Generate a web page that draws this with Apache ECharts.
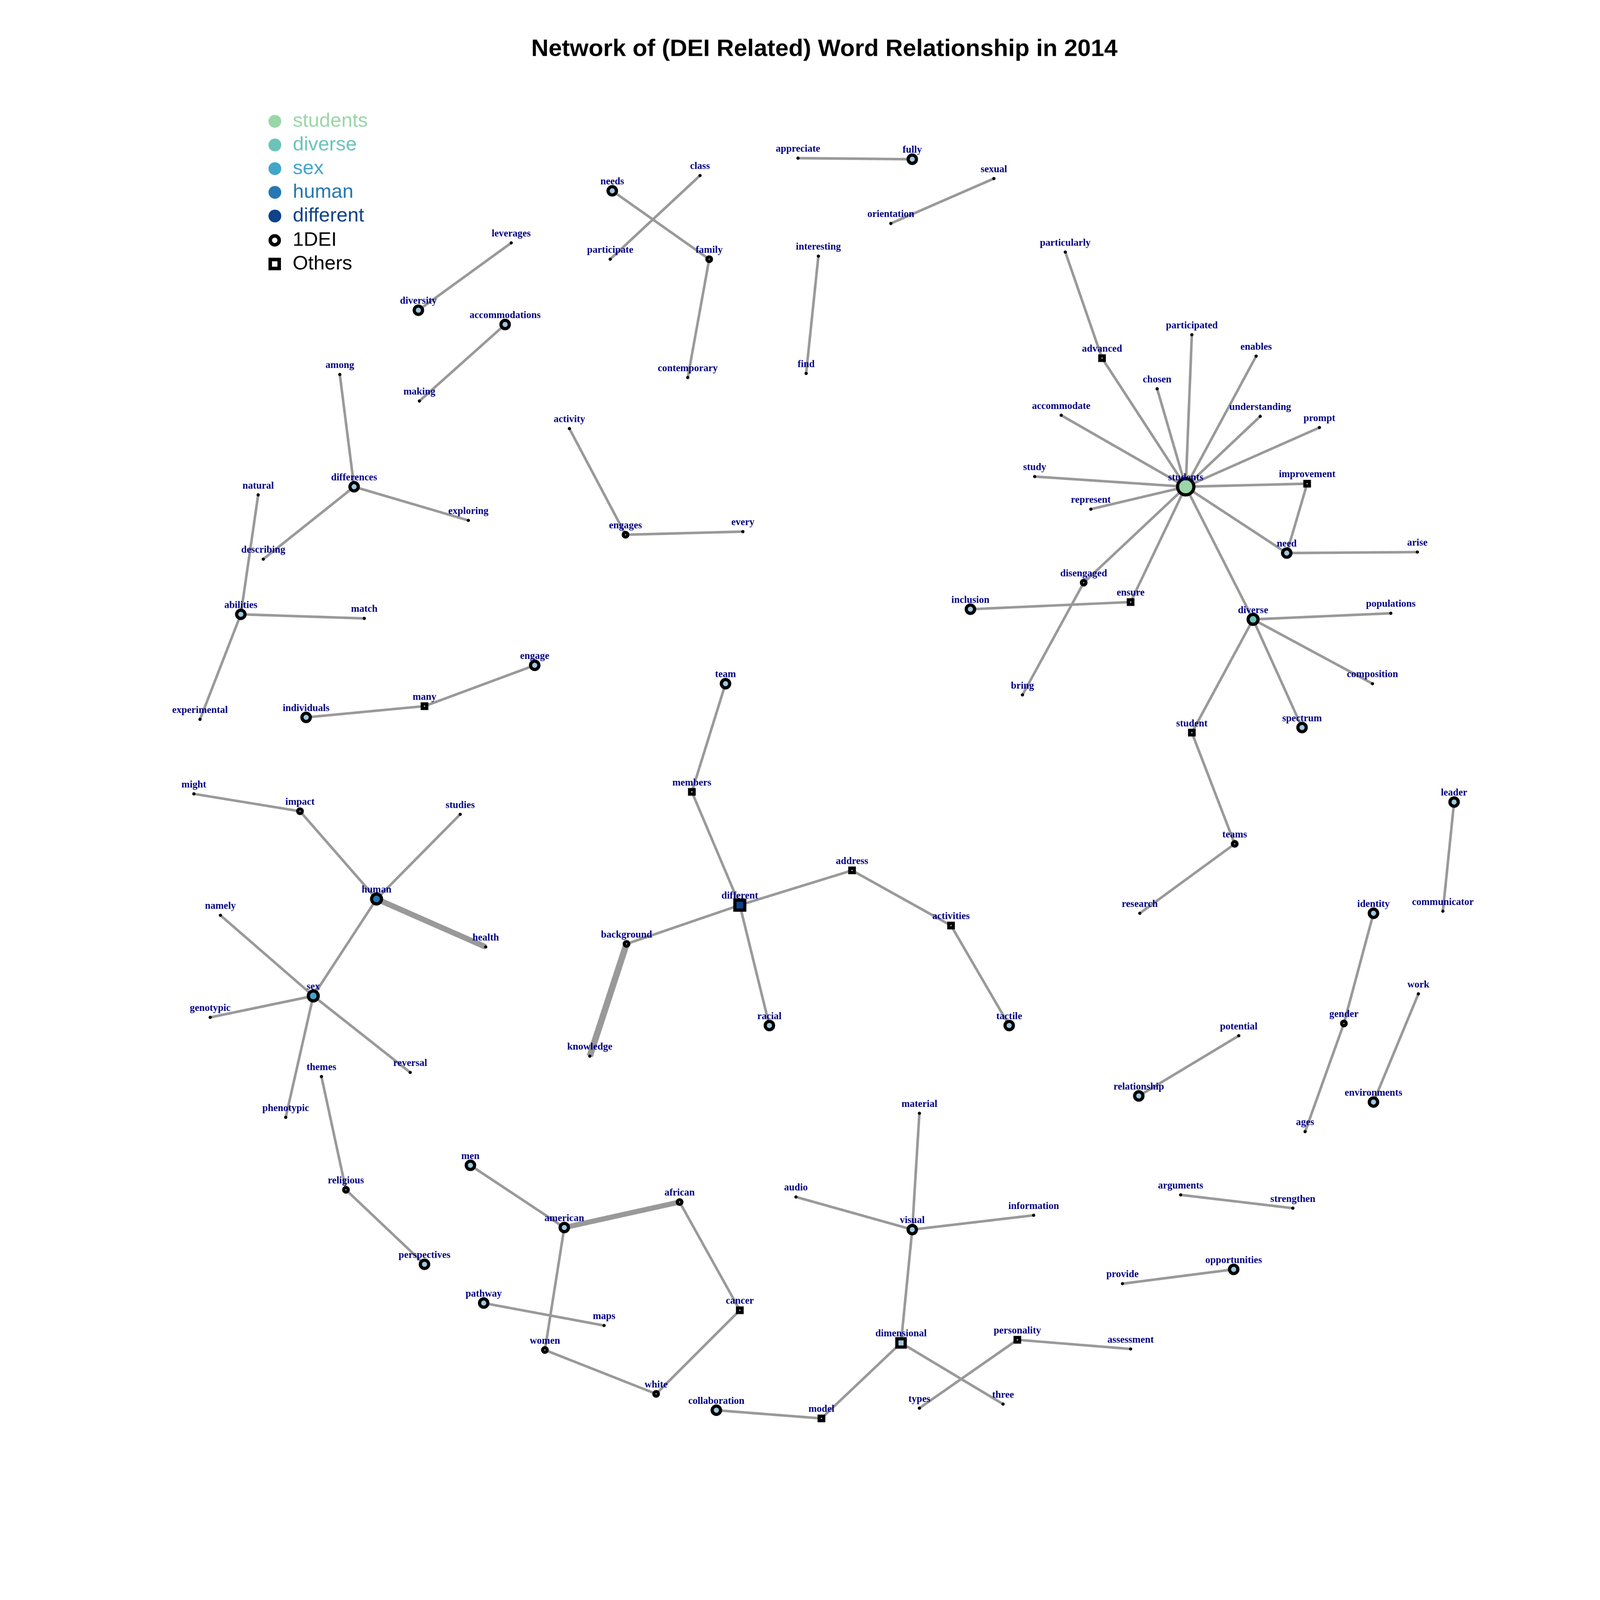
<!DOCTYPE html>
<html>
<head>
    <title>DEI word network 2014</title>
    <meta http-equiv="content-type" content="text/html; charset=utf-8">
    <script src="https://cdn.jsdelivr.net/npm/echarts@6.0.0/dist/echarts.min.js"></script>
    <style type="text/css">
    html, body {
        margin: 0;
        padding: 0;
        background: #fff;
        overflow: hidden;
    }
    #main {
        width: 5000px;
        height: 5000px;
        transform-origin: 0 0;
    }
    </style>
</head>

<body>
    <div id="main"></div>
    <script type="text/javascript">
    // legend groups: five hub words, then the two shape groups
    var groups = ['students', 'diverse', 'sex', 'human', 'different', '1DEI', 'Others'];
    var groupColors = ['#9ad6a8', '#6cc3b9', '#42a5ca', '#2678b2', '#0e428a', '#000000', '#000000'];

    // words and their layout position (layout units)
    var words = [
        'appreciate', 'fully', 'sexual', 'orientation', 'class', 'needs', 'participate', 'family',
        'contemporary', 'interesting', 'find', 'leverages', 'diversity', 'accommodations', 'making',
        'among', 'differences', 'natural', 'exploring', 'describing', 'abilities', 'match',
        'experimental', 'individuals', 'many', 'engage', 'activity', 'engages', 'every',
        'students', 'particularly', 'advanced', 'participated', 'enables', 'chosen', 'accommodate',
        'understanding', 'prompt', 'study', 'represent', 'improvement', 'need', 'arise', 'disengaged',
        'ensure', 'inclusion', 'bring', 'diverse', 'populations', 'composition', 'spectrum', 'student',
        'teams', 'research', 'team', 'members', 'different', 'address', 'activities', 'tactile',
        'racial', 'background', 'knowledge', 'might', 'impact', 'studies', 'human', 'health', 'namely',
        'sex', 'genotypic', 'reversal', 'phenotypic', 'themes', 'religious', 'perspectives', 'leader',
        'communicator', 'identity', 'work', 'gender', 'environments', 'ages', 'potential',
        'relationship', 'arguments', 'strengthen', 'provide', 'opportunities', 'men', 'american',
        'african', 'cancer', 'women', 'white', 'pathway', 'maps', 'audio', 'material', 'visual',
        'information', 'dimensional', 'personality', 'assessment', 'types', 'three', 'collaboration',
        'model'
    ];
    var wordX = [
        782, 894, 974, 873, 686, 600, 598, 695,
        674, 802, 790, 501, 410, 495, 411,
        333, 347, 253, 459, 258, 236, 357,
        196, 300, 416, 524, 558, 613, 728,
        1162, 1044, 1080, 1168, 1231, 1134, 1040,
        1235, 1293, 1014, 1069, 1281, 1261, 1389, 1062,
        1108, 951, 1002, 1228, 1363, 1345, 1276, 1168,
        1210, 1117, 711, 678, 725, 835, 932, 989,
        754, 614, 578, 190, 294, 451, 369, 476, 216,
        307, 206, 402, 280, 315, 339, 416, 1425,
        1414, 1346, 1390, 1317, 1346, 1279, 1214,
        1116, 1157, 1267, 1100, 1209, 461, 553,
        666, 725, 534, 643, 474, 592, 780, 901, 894,
        1013, 883, 997, 1108, 901, 983, 702,
        805
    ];
    var wordY = [
        155, 156, 175, 219, 172, 187, 254, 254,
        370, 251, 366, 238, 304, 318, 393,
        367, 477, 485, 510, 548, 602, 606,
        705, 703, 692, 652, 420, 524, 521,
        477, 247, 351, 328, 349, 381, 407,
        408, 419, 467, 499, 474, 542, 541, 571,
        590, 597, 681, 607, 601, 670, 713, 718,
        827, 895, 670, 776, 887, 853, 907, 1005,
        1005, 925, 1035, 778, 795, 798, 881, 928, 897,
        976, 997, 1051, 1095, 1055, 1166, 1239, 786,
        893, 895, 974, 1003, 1080, 1109, 1015,
        1074, 1171, 1184, 1258, 1244, 1142, 1203,
        1178, 1284, 1323, 1366, 1277, 1299, 1173, 1091, 1205,
        1191, 1316, 1313, 1322, 1380, 1376, 1382,
        1390
    ];
    // group of each word
    var wordGroup = [
        '1DEI', '1DEI', '1DEI', '1DEI', '1DEI', '1DEI', '1DEI', '1DEI',
        '1DEI', '1DEI', '1DEI', '1DEI', '1DEI', '1DEI', '1DEI',
        '1DEI', '1DEI', '1DEI', '1DEI', '1DEI', '1DEI', '1DEI',
        '1DEI', '1DEI', 'Others', '1DEI', '1DEI', '1DEI', '1DEI',
        'students', '1DEI', 'Others', '1DEI', '1DEI', '1DEI', '1DEI',
        '1DEI', '1DEI', '1DEI', '1DEI', 'Others', '1DEI', '1DEI', '1DEI',
        'Others', '1DEI', '1DEI', 'diverse', '1DEI', '1DEI', '1DEI', 'Others',
        '1DEI', '1DEI', '1DEI', 'Others', 'different', 'Others', 'Others', '1DEI',
        '1DEI', '1DEI', '1DEI', '1DEI', '1DEI', '1DEI', 'human', '1DEI', '1DEI',
        'sex', '1DEI', '1DEI', '1DEI', '1DEI', '1DEI', '1DEI', '1DEI',
        '1DEI', '1DEI', '1DEI', '1DEI', '1DEI', '1DEI', '1DEI',
        '1DEI', '1DEI', '1DEI', '1DEI', '1DEI', '1DEI', '1DEI',
        '1DEI', 'Others', '1DEI', '1DEI', '1DEI', '1DEI', '1DEI', '1DEI', '1DEI',
        '1DEI', 'Others', 'Others', '1DEI', '1DEI', '1DEI', '1DEI',
        'Others'
    ];
    // importance of each word: 0 leaf, 1 minor, 2 DEI word, 3 hub, 4 main hub
    var wordLevel = [
        0, 2, 0, 0, 0, 2, 0, 1,
        0, 0, 0, 0, 2, 2, 0,
        0, 2, 0, 0, 0, 2, 0,
        0, 2, 1, 2, 0, 1, 0,
        4, 0, 1, 0, 0, 0, 0,
        0, 0, 0, 0, 1, 2, 0, 1,
        1, 2, 0, 3, 0, 0, 2, 1,
        1, 0, 2, 1, 3, 1, 1, 2,
        2, 1, 0, 0, 1, 0, 3, 0, 0,
        3, 0, 0, 0, 0, 1, 2, 2,
        0, 2, 0, 1, 2, 0, 0,
        2, 0, 0, 0, 2, 2, 2,
        1, 1, 1, 1, 2, 0, 0, 0, 2,
        0, 2, 1, 0, 0, 0, 2,
        1
    ];

    // word pairs
    var edgeFrom = [
        'appreciate', 'sexual', 'class', 'needs', 'family', 'interesting', 'leverages', 'accommodations',
        'among', 'differences', 'differences', 'natural', 'abilities', 'abilities', 'individuals', 'many',
        'activity', 'engages',
        'particularly', 'advanced', 'participated', 'enables', 'chosen', 'accommodate', 'understanding',
        'prompt', 'study', 'represent', 'improvement', 'students', 'improvement', 'need', 'students',
        'disengaged', 'students', 'ensure', 'students', 'diverse', 'diverse', 'diverse', 'diverse',
        'student', 'teams',
        'team', 'members', 'different', 'address', 'activities', 'different', 'different', 'background',
        'might', 'impact', 'human', 'human', 'human', 'namely', 'sex', 'sex', 'sex', 'themes', 'religious',
        'leader', 'identity', 'gender', 'work', 'potential', 'arguments', 'provide',
        'men', 'american', 'african', 'cancer', 'american', 'women', 'pathway', 'audio', 'material',
        'visual', 'visual', 'dimensional', 'model', 'dimensional', 'personality', 'personality'
    ];
    var edgeTo = [
        'fully', 'orientation', 'participate', 'family', 'contemporary', 'find', 'diversity', 'making',
        'differences', 'describing', 'exploring', 'abilities', 'match', 'experimental', 'many', 'engage',
        'engages', 'every',
        'advanced', 'students', 'students', 'students', 'students', 'students', 'students',
        'students', 'students', 'students', 'students', 'need', 'need', 'arise', 'disengaged',
        'bring', 'ensure', 'inclusion', 'diverse', 'populations', 'composition', 'spectrum', 'student',
        'teams', 'research',
        'members', 'different', 'address', 'activities', 'tactile', 'racial', 'background', 'knowledge',
        'impact', 'human', 'studies', 'health', 'sex', 'sex', 'genotypic', 'reversal', 'phenotypic', 'religious', 'perspectives',
        'communicator', 'gender', 'ages', 'environments', 'relationship', 'strengthen', 'opportunities',
        'american', 'african', 'cancer', 'white', 'women', 'white', 'maps', 'visual', 'visual',
        'information', 'dimensional', 'model', 'collaboration', 'three', 'types', 'assessment'
    ];
    var edgeWeight = [
        1, 1, 1, 1, 1, 1, 1, 1,
        1, 1, 1, 1, 1, 1, 1, 1,
        1, 1,
        1, 1, 1, 1, 1, 1, 1,
        1, 1, 1, 1, 1, 1, 1, 1,
        1, 1, 1, 1, 1, 1, 1, 1,
        1, 1,
        1, 1, 1, 1, 1, 1, 1, 2.5,
        1, 1, 1, 2.2, 1, 1, 1, 1, 1, 1, 1,
        1, 1, 1, 1, 1, 1, 1,
        1, 2, 1, 1, 1, 1, 1, 1, 1,
        1, 1, 1, 1, 1, 1, 1
    ];

    // drawing styles by level
    var levelSize = [10, 14, 26, 31, 51];
    var levelBorder = [0, 10, 10, 10, 10];
    var deiFill = '#9ecae1';
    var edgeUnit = 8;

    // the page is drawn at 5000px; fit it to the window whatever the pixel ratio
    var box = document.getElementById('main');
    var fit = Math.min(window.innerWidth, window.innerHeight) / 5000;
    if (fit > 0 && Math.abs(fit - 1) > 0.001) {
        box.style.transform = 'scale(' + fit + ')';
    }

    var nodes = words.map(function (w, i) {
        var g = groups.indexOf(wordGroup[i]);
        var lv = wordLevel[i];
        var square = wordGroup[i] === 'Others' || wordGroup[i] === 'different';
        var fill = lv === 0 ? '#000' : (lv >= 3 ? groupColors[g] : deiFill);
        return {
            name: w,
            value: [wordX[i], wordY[i]],
            category: g,
            symbol: square ? 'rect' : 'circle',
            symbolSize: levelSize[lv],
            itemStyle: {
                color: fill,
                borderColor: '#000',
                borderWidth: levelBorder[lv]
            }
        };
    });

    var links = edgeFrom.map(function (s, i) {
        return {
            source: s,
            target: edgeTo[i],
            lineStyle: { width: edgeWeight[i] * edgeUnit }
        };
    });

    var colorLegend = groups.slice(0, 5).map(function (g, i) {
        return {
            name: g,
            icon: 'circle',
            itemStyle: { color: groupColors[i], borderWidth: 0 },
            textStyle: { color: groupColors[i] }
        };
    });
    var shapeLegend = [
        {
            name: '1DEI',
            icon: 'circle',
            itemStyle: { color: '#fff', borderColor: '#000', borderWidth: 11 },
            textStyle: { color: '#000' }
        },
        {
            name: 'Others',
            icon: 'path://M0,0L10,0L10,10L0,10Z',
            itemStyle: { color: '#fff', borderColor: '#000', borderWidth: 11 },
            textStyle: { color: '#000' }
        }
    ];

    var legendText = {
        fontFamily: 'Liberation Sans, Arial, sans-serif',
        fontSize: 62,
        lineHeight: 60
    };

    var myChart = echarts.init(box, null, { renderer: 'canvas', width: 5000, height: 5000 });
    myChart.setOption({
        backgroundColor: '#fff',
        animation: false,
        title: {
            text: 'Network of (DEI Related) Word Relationship in 2014',
            left: 1660,
            top: 117,
            padding: 0,
            textStyle: {
                fontFamily: 'Liberation Sans, Arial, sans-serif',
                fontWeight: 'bold',
                fontSize: 75,
                lineHeight: 75,
                color: '#000'
            }
        },
        legend: [{
            orient: 'vertical',
            left: 834,
            top: 343,
            itemWidth: 102,
            itemHeight: 40,
            itemGap: 12,
            selectedMode: false,
            textStyle: legendText,
            data: colorLegend
        }, {
            orient: 'vertical',
            left: 834,
            top: 715,
            itemWidth: 102,
            itemHeight: 28,
            itemGap: 12,
            selectedMode: false,
            textStyle: legendText,
            data: shapeLegend
        }],
        grid: { left: 0, right: 0, top: 0, bottom: 0 },
        xAxis: { type: 'value', min: 0, max: 1568, show: false },
        yAxis: { type: 'value', min: 0, max: 1568, inverse: true, show: false },
        series: [{
            type: 'graph',
            layout: 'none',
            coordinateSystem: 'cartesian2d',
            categories: groups.map(function (g, i) {
                return { name: g, itemStyle: { color: i < 5 ? groupColors[i] : deiFill } };
            }),
            data: nodes,
            links: links,
            lineStyle: { color: '#999999', opacity: 1, curveness: 0 },
            label: {
                show: true,
                position: 'inside',
                offset: [0, -28],
                formatter: '{b}',
                fontFamily: 'Liberation Serif, Times New Roman, serif',
                fontWeight: 'bold',
                fontSize: 31,
                color: '#000080'
            },
            emphasis: { disabled: true }
        }]
    });
    </script>
</body>
</html>
